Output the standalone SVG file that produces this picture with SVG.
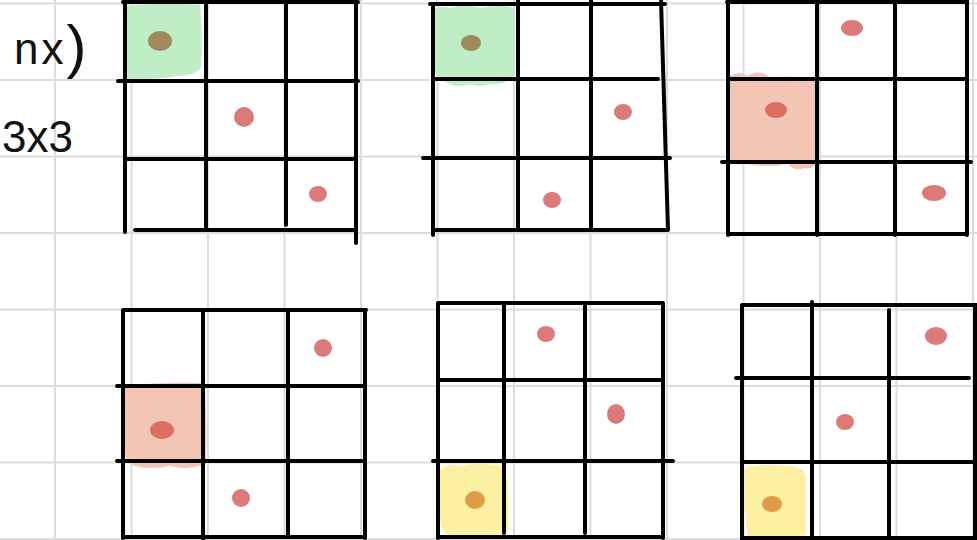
<svg xmlns="http://www.w3.org/2000/svg" width="977" height="540" viewBox="0 0 977 540">
<style>
.bg{stroke:#dcdcdc;stroke-width:2;fill:none}
.ln{stroke:#000;stroke-width:4;stroke-linecap:round;fill:none}
.dot{fill:#dc7a7a}
.gp{fill:#bfedc5}
.rp{fill:#f3c5b4}
.yp{fill:#fcf1a2}
.hw{font-family:"Liberation Sans",Arial,sans-serif;font-size:44px;fill:#111}
</style>
<rect width="977" height="540" fill="#fff"/>
<g id="paper">
<path class="bg" d="M55 0V540M131.5 0V540M208 0V540M284.5 0V540M361 0V540M437.5 0V540M514 0V540M590.5 0V540M667 0V540M743.5 0V540M820 0V540M896.5 0V540M973 0V540"/>
<path class="bg" d="M0 3.5H977M0 80H977M0 156.5H977M0 233H977M0 309.5H977M0 386H977M0 462.5H977M0 539H977"/>
</g>
<g id="labels">
<text class="hw" x="14" y="64" letter-spacing="3">nx<tspan font-size="60" dy="3">)</tspan></text>
<text class="hw" x="2" y="152" font-size="45">3x3</text>
</g>
<g id="grid1">
<path class="gp" d="M124 6Q160 2 200 5Q203 40 201 62Q203 70 192 74Q170 78 150 79Q138 82 128 82Q122 50 124 6Z"/>
<path class="ln" d="M123 2H358M125 0V232M206 5V227M286 3V225M356 0V243M118 81H358M126 159H356M135 230H356"/>
<ellipse cx="160" cy="41" rx="12" ry="10" fill="#9f8a5e"/>
<ellipse class="dot" cx="244" cy="117" rx="10" ry="10"/>
<ellipse class="dot" cx="318" cy="194" rx="9" ry="8"/>
</g>
<g id="grid2">
<path class="gp" d="M431 14Q436 4 450 8Q465 3 480 8Q500 4 514 8V78Q500 86 490 84Q480 88 470 84Q458 88 450 84Q436 78 434 70Q430 40 431 14Z"/>
<path class="ln" d="M430 4H665M433 4V235M518 0V230M591 0V230M661 0L668 230M433 79H658M423 158H670M433 230H668"/>
<ellipse cx="471" cy="43" rx="10" ry="8" fill="#9f8a5e"/>
<ellipse class="dot" cx="623" cy="112" rx="9" ry="8"/>
<ellipse class="dot" cx="552" cy="200" rx="9" ry="8"/>
</g>
<g id="grid3">
<path class="rp" d="M730 76Q740 70 747 76Q760 68 770 78Q790 74 815 80V164Q812 170 805 168Q795 172 788 164Q770 168 745 164Q735 166 730 160Z"/>
<path class="ln" d="M727 2H967M728 0V235M817 0V235M895 0V235M967 0V235M728 79H967M722 162H971M728 234H967"/>
<ellipse cx="776" cy="110" rx="11" ry="8" fill="#de6e5e"/>
<ellipse class="dot" cx="852" cy="28" rx="11" ry="8"/>
<ellipse class="dot" cx="934" cy="193" rx="12" ry="8"/>
</g>
<g id="grid4">
<path class="rp" d="M124 386Q160 382 205 383Q207 430 206 458Q210 465 200 466Q185 470 170 466Q150 470 135 466Q124 462 123 440Z"/>
<path class="ln" d="M123 310H366M123 310V538M203 312V540M288 310V535M365 310V538M117 386H365M117 461H362M123 537H365"/>
<ellipse cx="162" cy="430" rx="12" ry="9" fill="#de6e5e"/>
<ellipse class="dot" cx="323" cy="348" rx="9" ry="9"/>
<ellipse class="dot" cx="241" cy="498" rx="9" ry="9"/>
</g>
<g id="grid5">
<path class="yp" d="M440 470Q450 462 460 466Q480 462 505 466Q510 500 508 520Q512 534 500 536Q480 540 460 538Q442 538 440 520Z"/>
<path class="ln" d="M438 303H663M438 303V538M504 303V533M585 303V533M663 303V538M438 380H663M433 461H673M438 537H663"/>
<ellipse cx="475" cy="500" rx="10" ry="9" fill="#e39a48"/>
<ellipse class="dot" cx="546" cy="334" rx="9" ry="8"/>
<ellipse class="dot" cx="616" cy="414" rx="9" ry="10"/>
</g>
<g id="grid6">
<path class="yp" d="M745 468Q760 463 790 466Q806 466 806 480V532Q806 538 795 538Q770 540 748 538Q744 520 745 468Z"/>
<path class="ln" d="M742 305H977M742 305V540M812 302V540M889 310V540M975 305V540M736 378H969M742 462H975M742 538H975"/>
<ellipse cx="772" cy="504" rx="10" ry="8" fill="#e39a48"/>
<ellipse class="dot" cx="936" cy="336" rx="11" ry="9"/>
<ellipse class="dot" cx="845" cy="422" rx="9" ry="8"/>
</g>
</svg>
